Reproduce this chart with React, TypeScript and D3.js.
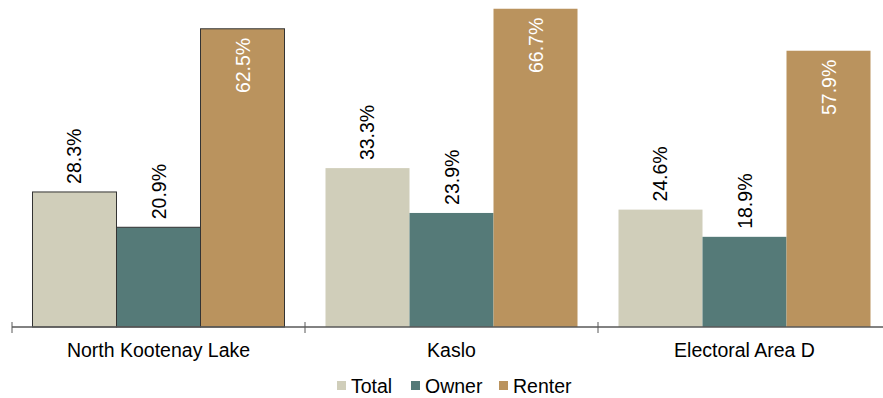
import React from 'react';
import * as d3 from 'd3'

const categories = ['North Kootenay Lake', 'Kaslo', 'Electoral Area D']
const series = ['Total', 'Owner', 'Renter']
const total = [28.3, 33.3, 24.6]
const owner = [20.9, 23.9, 18.9]
const renter = [62.5, 66.7, 57.9]
const colors = ['#D0CEBA', '#557A78', '#BA935E']

const W = 883
const H = 398
const font = 'Arial, "Liberation Sans", sans-serif'
const fs = 19.5

const App: React.FC = () => {
  const values = [total, owner, renter]
  const baseY = 327

  const x0 = d3.scaleBand().domain(categories).range([12, 891]).paddingInner(0).paddingOuter(0)
  const x1 = d3.scaleBand().domain(series).range([0, x0.bandwidth()]).paddingInner(0).paddingOuter(0.244)
  const y = d3.scaleLinear().domain([0, 70]).range([baseY, -7])

  const ticks = [...categories.map(c => x0(c)!), x0(categories[2])! + x0.bandwidth()]

  return (
    <svg width={W} height={H} style={{ position: 'absolute', left: 0, top: 0 }}>
      {categories.map((c, ci) => (
        <g key={c} transform={`translate(${x0(c)},0)`}>
          {series.map((s, si) => {
            const v = values[si][ci]
            const bx = x1(s)!
            const bw = x1.bandwidth()
            const top = y(v)
            const inside = si === 2
            const cx = bx + bw / 2
            const ly = inside ? top + 9 : top - 8
            return (
              <g key={s}>
                <rect x={bx} y={top} width={bw} height={baseY - top} fill={colors[si]}
                  stroke={ci === 0 ? '#333' : 'none'} strokeWidth={1} />
                <text transform={`translate(${cx + 7},${ly}) rotate(-90)`}
                  textAnchor={inside ? 'end' : 'start'} fontFamily={font} fontSize={fs}
                  fill={inside ? '#fff' : '#000'}>{v.toFixed(1)}%</text>
              </g>
            )
          })}
          <text x={x0.bandwidth() / 2} y={357} textAnchor="middle" fontFamily={font} fontSize={fs}>{c}</text>
        </g>
      ))}
      <line x1={12} x2={W} y1={baseY} y2={baseY} stroke="#595959" strokeWidth={1.5} />
      {ticks.map((t, i) => (
        <line key={i} x1={t} x2={t} y1={baseY - 5} y2={baseY + 6} stroke="#595959" strokeWidth={1} />
      ))}
      {series.map((s, i) => {
        const lx = [337, 411, 499][i]
        return (
          <g key={s}>
            <rect x={lx} y={381} width={9} height={9} fill={colors[i]} />
            <text x={lx + 14} y={393} fontFamily={font} fontSize={fs}>{s}</text>
          </g>
        )
      })}
    </svg>
  )
}

export default App
